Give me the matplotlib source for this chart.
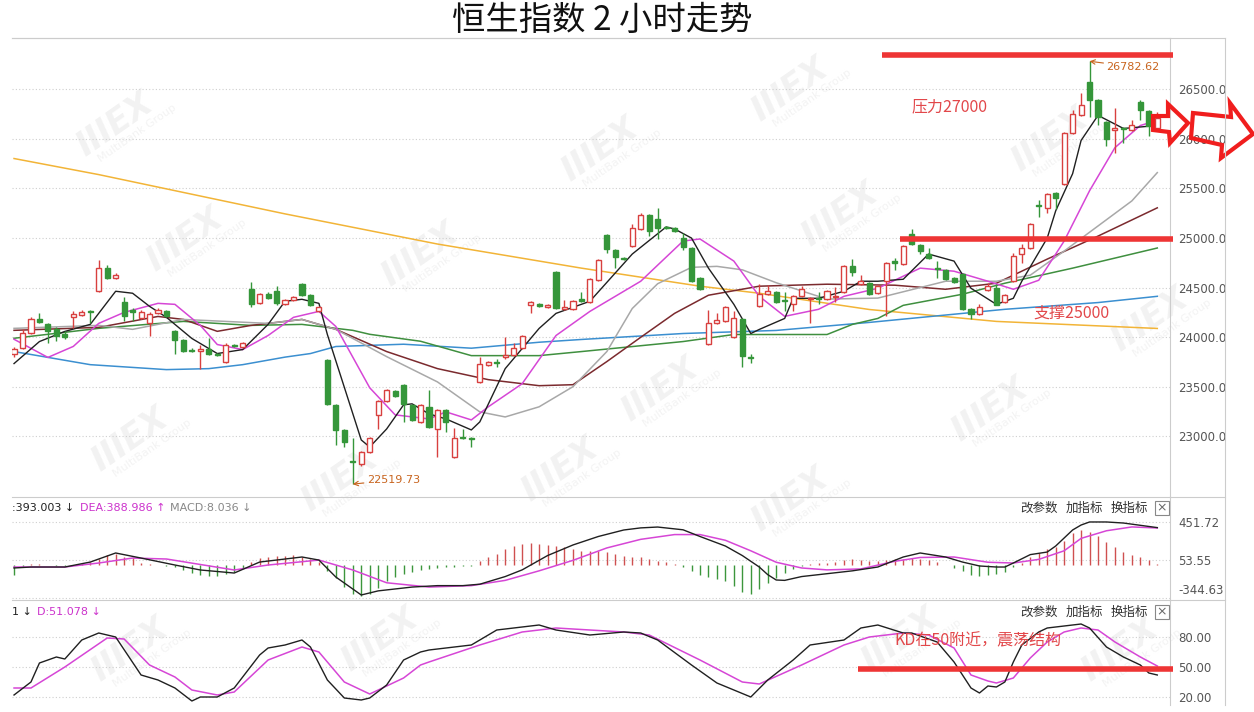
import numpy as np
import matplotlib.pyplot as plt
from matplotlib.patches import Polygon, Rectangle

plt.rcParams['font.family'] = ['Noto Sans CJK SC', 'DejaVu Sans']

# ---------------- data ----------------
# candles (2h bars)
opens = [23830, 23890, 24040, 24180, 24130, 24080, 24030, 24200, 24220, 24260,
         24470, 24700, 24600, 24360, 24270, 24190, 24140, 24240, 24260, 24060,
         23970, 23870, 23860, 23880, 23830, 23750, 23920, 23900, 24490, 24350,
         24440, 24470, 24340, 24380, 24540, 24430, 24260, 23770, 23320, 23070,
         22750, 22720, 22840, 23220, 23360, 23460, 23520, 23320, 23150, 23300,
         23080, 23270, 22790, 22990, 22980, 23550, 23720, 23750, 23800, 23820,
         23890, 24330, 24340, 24310, 24660, 24290, 24290, 24390, 24360, 24580,
         25030, 24880, 24800, 24920, 25090, 25230, 25190, 25110, 25100, 25000,
         24900, 24600, 23930, 24140, 24160, 24000, 24180, 23800, 24320, 24440,
         24460, 24380, 24340, 24420, 24390, 24400, 24390, 24410, 24460, 24720,
         24540, 24550, 24450, 24570, 24770, 24740, 25040, 24930, 24840, 24700,
         24680, 24600, 24640, 24290, 24230, 24480, 24500, 24360, 24570, 24840,
         24900, 25330, 25300, 25450, 25550, 26060, 26240, 26570, 26390, 26170,
         26090, 26110, 26090, 26370, 26280, 26110]
highs = [23900, 24080, 24200, 24240, 24140, 24100, 24060, 24260, 24270, 24270,
         24780, 24730, 24650, 24410, 24300, 24270, 24250, 24300, 24280, 24070,
         23980, 23890, 23920, 23990, 23840, 23940, 23930, 23950, 24560, 24450,
         24460, 24520, 24390, 24420, 24550, 24440, 24320, 23780, 23330, 23080,
         22980, 22850, 22990, 23370, 23480, 23470, 23530, 23330, 23330, 23470,
         23280, 23280, 23090, 23080, 22990, 23800, 23760, 23780, 24000, 23940,
         24020, 24370, 24350, 24340, 24670, 24380, 24380, 24460, 24600, 24790,
         25040, 24890, 24810, 25140, 25250, 25240, 25300, 25120, 25110, 25050,
         24910, 24610, 24280, 24240, 24320, 24260, 24190, 23830, 24540, 24530,
         24470, 24460, 24430, 24520, 24410, 24460, 24480, 24510, 24730, 24790,
         24630, 24560, 24530, 24760, 24800, 24930, 25090, 24940, 24900, 24770,
         24690, 24610, 24650, 24300, 24340, 24550, 24540, 24440, 24850, 24940,
         25150, 25380, 25450, 25460, 26070, 26290, 26460, 26782.62, 26400, 26180,
         26310, 26120, 26190, 26390, 26290, 26270]
lows = [23800, 23880, 24030, 24140, 23940, 23960, 23980, 24090, 24210, 24140,
        24460, 24590, 24590, 24160, 24160, 24180, 24010, 24230, 24200, 23830,
        23850, 23850, 23680, 23820, 23810, 23740, 23900, 23890, 24310, 24340,
        24390, 24330, 24330, 24370, 24420, 24320, 24250, 23320, 22910, 22890,
        22519.73, 22700, 22830, 23080, 23350, 23400, 23150, 23160, 23140, 23090,
        22790, 23050, 22780, 22970, 22890, 23540, 23710, 23700, 23780, 23810,
        23880, 24240, 24310, 24300, 24290, 24280, 24280, 24360, 24350, 24570,
        24850, 24700, 24780, 24910, 25080, 25020, 24990, 25090, 25060, 24880,
        24560, 24480, 23920, 24130, 24150, 23990, 23700, 23740, 24310, 24430,
        24350, 24260, 24260, 24410, 24140, 24340, 24380, 24360, 24450, 24620,
        24530, 24430, 24440, 24210, 24680, 24730, 24930, 24840, 24790, 24600,
        24580, 24550, 24280, 24180, 24220, 24470, 24330, 24350, 24560, 24750,
        24890, 25210, 25250, 25290, 25540, 26050, 26230, 26220, 26140, 25930,
        25860, 25960, 26080, 26190, 26030, 26100]
closes = [23880, 24040, 24180, 24150, 24060, 24010, 24000, 24230, 24250, 24250,
          24700, 24600, 24630, 24210, 24250, 24250, 24230, 24280, 24210, 23970,
          23860, 23860, 23880, 23830, 23820, 23920, 23910, 23940, 24340, 24440,
          24400, 24350, 24380, 24410, 24430, 24330, 24310, 23330, 23070, 22940,
          22740, 22840, 22980, 23360, 23470, 23410, 23330, 23170, 23320, 23100,
          23270, 23150, 22980, 22980, 22970, 23730, 23750, 23740, 23820, 23890,
          24010, 24360, 24320, 24330, 24300, 24310, 24370, 24370, 24590, 24780,
          24890, 24810, 24790, 25100, 25230, 25070, 25100, 25100, 25070, 24910,
          24570, 24490, 24140, 24170, 24310, 24190, 23810, 23790, 24440, 24470,
          24360, 24370, 24420, 24490, 24400, 24390, 24470, 24420, 24720, 24660,
          24570, 24440, 24520, 24750, 24750, 24920, 24940, 24870, 24800, 24690,
          24590, 24560, 24290, 24230, 24310, 24520, 24330, 24430, 24820, 24900,
          25140, 25320, 25440, 25400, 26060, 26250, 26340, 26390, 26220, 26000,
          26110, 26100, 26140, 26290, 26130, 26210]

# moving averages: (bar index, value) samples
ma5_x = [0, 3, 6, 9, 12, 14, 16, 18, 21, 24, 27, 30, 32, 34, 36, 37, 41, 42, 44, 46, 47, 49, 51, 54, 55,
         58, 62, 64, 68, 73, 77, 78, 80, 82, 85, 87, 88, 91, 92, 95, 98, 100, 102, 105, 108, 111, 113,
         116, 118, 119, 122, 123, 125, 126, 128, 131, 135]
ma5_y = [23735, 23957, 24059, 24130, 24464, 24444, 24312, 24201, 23988, 23836, 23876, 24130, 24363, 24383,
         24342, 24028, 22965, 22894, 23076, 23319, 23329, 23228, 23177, 23066, 23147, 23684, 24089, 24241,
         24363, 24839, 25112, 25092, 25000, 24697, 24332, 24038, 24079, 24190, 24393, 24393, 24464, 24565,
         24565, 24585, 24839, 24768, 24494, 24332, 24393, 24565, 25000, 25274, 25649, 25984, 26237, 26105,
         26135]
ma10_x = [0, 4, 7, 10, 13, 17, 19, 22, 24, 27, 30, 33, 36, 38, 42, 45, 49, 51, 54, 56, 60, 64, 68, 74, 79,
          81, 85, 88, 91, 95, 98, 102, 107, 111, 115, 118, 121, 124, 127, 130, 133, 135]
ma10_y = [23980, 23797, 23908, 24140, 24251, 24342, 24332, 24120, 23927, 23876, 24018, 24201, 24261, 24109,
          23491, 23218, 23177, 23248, 23167, 23299, 23532, 24018, 24261, 24565, 24970, 24991, 24768, 24413,
          24211, 24282, 24413, 24494, 24697, 24666, 24565, 24484, 24575, 24970, 25477, 25912, 26135, 26186]
ma20_x = [0, 10, 14, 20, 30, 34, 38, 44, 50, 55, 58, 62, 66, 70, 73, 76, 80, 83, 86, 90, 96, 102, 106,
          110, 116, 120, 124, 128, 132, 135]
ma20_y = [24090, 24120, 24080, 24180, 24140, 24180, 24080, 23805, 23550, 23248, 23197, 23299, 23502, 23856,
          24290, 24540, 24705, 24715, 24680, 24550, 24385, 24395, 24480, 24565, 24565, 24626, 24869, 25122,
          25375, 25660]
ma30_x = [0, 10, 17, 20, 24, 28, 34, 38, 44, 50, 56, 62, 66, 70, 74, 78, 82, 88, 96, 104, 110, 116, 122,
          128, 135]
ma30_y = [24070, 24100, 24210, 24180, 24060, 24120, 24180, 24080, 23856, 23684, 23573, 23512, 23522, 23755,
          24000, 24241, 24424, 24515, 24535, 24525, 24484, 24545, 24788, 25020, 25305]
ma60_x = [0, 10, 20, 28, 34, 40, 42, 48, 54, 62, 67, 79, 85, 96, 99, 102, 105, 112, 117, 125, 135]
ma60_y = [23990, 24090, 24160, 24120, 24130, 24070, 24030, 23960, 23815, 23815, 23856, 23957, 24028, 24028,
          24130, 24190, 24322, 24434, 24545, 24697, 24900]
ma120_x = [0, 9, 18, 23, 27, 32, 35, 38, 46, 54, 62, 67, 79, 90, 101, 117, 128, 135]
ma120_y = [23856, 23724, 23674, 23684, 23724, 23800, 23836, 23907, 23930, 23890, 23950, 23978, 24038, 24069,
           24150, 24282, 24350, 24413]
ma250_x = [0, 10, 20, 32, 50, 67, 81, 88, 101, 116, 135]
ma250_y = [25802, 25640, 25460, 25244, 24940, 24697, 24515, 24444, 24280, 24160, 24089]

# MACD histogram, one value per bar
macd_bar = [-100, -20, 10, 10, 5, -5, -5, 5, 10, 30, 60, 110, 120, 90, 70, 20, 10, 5, -5, -20,
            -50, -80, -100, -110, -110, -90, -70, -30, 30, 70, 90, 100, 100, 110, 90, 60, 30, -60, -130, -230,
            -300, -320, -300, -240, -170, -120, -90, -70, -50, -40, -30, -20, -20, -10, -5, 40, 80, 120, 170, 200,
            220, 230, 220, 210, 200, 190, 170, 150, 150, 150, 140, 120, 100, 90, 80, 60, 40, 30, 10, -20,
            -60, -100, -120, -150, -170, -220, -280, -300, -250, -190, -130, -80, -40, -10, 10, 20, 20, 30, 50, 60,
            50, 40, 40, 50, 60, 60, 70, 60, 50, 30, 5, -30, -60, -100, -110, -100, -90, -70, -20, 20,
            80, 130, 170, 190, 250, 340, 370, 350, 300, 240, 190, 140, 110, 80, 50, 8]
dif_x = [0, 2, 6, 9, 12, 15, 19, 22, 26, 29, 34, 36, 38, 41, 43, 47, 50, 53, 55, 58, 60, 63, 66, 69, 72, 74,
         76, 79, 81, 84, 86, 88, 89, 90, 91, 93, 96, 99, 102, 105, 107, 110, 112, 114, 116, 117, 118, 120,
         122, 123, 125, 126, 127, 129, 131, 135]
dif_y = [-30, -20, -20, 32, 127, 74, 1, -51, -83, 32, 85, 53, -125, -313, -270, -230, -215, -215, -200, -120,
         -50, 100, 211, 300, 368, 390, 399, 370, 300, 200, 100, -20, -100, -156, -160, -120, -90, -60, -20, 85,
         127, 85, 32, -9, -20, -20, 22, 110, 137, 200, 368, 420, 452, 452, 441, 393]
dea_x = [0, 6, 10, 14, 18, 26, 30, 36, 40, 44, 49, 54, 58, 62, 66, 70, 74, 78, 81, 84, 87, 90, 93, 96, 100,
         104, 107, 111, 115, 118, 121, 124, 126, 129, 132, 135]
dea_y = [-20, -20, 22, 74, 64, -51, 1, 53, -51, -185, -230, -215, -160, -60, 50, 180, 270, 320, 320, 260,
         150, 30, -30, -50, -40, 40, 80, 85, 30, 22, 60, 150, 280, 360, 400, 389]

# KD
k_x = [0, 2, 3, 5, 6, 8, 10, 12, 15, 17, 19, 21, 22, 24, 26, 29, 30, 32, 34, 35, 37, 39, 41, 42, 44, 46, 48,
       49, 54, 57, 62, 64, 68, 72, 74, 76, 80, 83, 87, 89, 92, 94, 98, 100, 102, 105, 106, 109, 111, 112,
       113, 114, 115, 116, 117, 118, 119, 121, 122, 124, 126, 127, 129, 131, 133, 134, 135]
k_y = [22, 35, 54, 60, 58, 77, 84, 80, 42, 37, 29, 16, 20, 20, 29, 62, 69, 72, 77, 70, 37, 19, 17, 19, 32, 57,
       65, 67, 72, 87, 92, 87, 82, 85, 84, 77, 52, 34, 20, 37, 57, 72, 77, 89, 92, 84, 84, 75, 55, 42, 29, 24,
       31, 30, 35, 55, 72, 85, 89, 91, 93, 89, 70, 60, 52, 44, 42]
d_x = [0, 2, 6, 11, 13, 16, 19, 21, 24, 26, 30, 34, 36, 39, 42, 46, 48, 49, 55, 60, 64, 72, 75, 81, 86, 88,
       93, 98, 101, 105, 108, 111, 113, 115, 116, 118, 120, 122, 124, 126, 128, 130, 133, 135]
d_y = [29, 29, 50, 79, 78, 52, 40, 27, 22, 25, 57, 70, 65, 35, 23, 39, 52, 55, 72, 85, 89, 85, 82, 57, 35, 33,
       52, 72, 80, 84, 82, 69, 42, 36, 34, 39, 59, 75, 85, 89, 87, 75, 60, 51]

price_ticks = [23000, 23500, 24000, 24500, 25000, 25500, 26000, 26500]
macd_ticks = [-344.63, 53.55, 451.72]
kd_ticks = [20, 50, 80]

# ---------------- layout ----------------
W, H = 1254, 712
RED = '#d8403f'
GREEN = '#35963a'
LINE_RED = '#ee3535'


def box(x0, y0, x1, y1):
    return [x0 / W, 1 - y1 / H, (x1 - x0) / W, (y1 - y0) / H]


fig = plt.figure(figsize=(12.54, 7.12), dpi=100)
fig.patch.set_facecolor('white')

# background layer for the watermark
bg = fig.add_axes([0, 0, 1, 1], zorder=0)
bg.set_xlim(0, W)
bg.set_ylim(H, 0)
bg.axis('off')
marks = [(115, 125), (185, 240), (420, 255), (600, 150), (790, 90), (840, 215), (1050, 140),
         (130, 440), (340, 480), (560, 470), (790, 500), (990, 410), (1150, 320), (660, 390),
         (900, 640), (1120, 650), (130, 650), (380, 640)]
for mx, my in marks:
    bg.text(mx, my, 'IIIEX', fontsize=24, fontweight='bold', fontstyle='italic', color='#f2f2f2',
            rotation=35, ha='center', va='center', family='DejaVu Sans')
    bg.text(mx + 22, my + 8, 'MultiBank Group', fontsize=8, color='#f3f3f3',
            rotation=35, ha='center', va='center', family='DejaVu Sans')

ax = fig.add_axes(box(12, 38, 1170, 496), zorder=1)
ax_macd = fig.add_axes(box(12, 497, 1170, 600), zorder=1)
ax_kd = fig.add_axes(box(12, 600, 1170, 705), zorder=1)

n = len(opens)
idx = np.arange(n)
o = np.array(opens, float)
h = np.array(highs, float)
l = np.array(lows, float)
c = np.array(closes, float)
up = c >= o

for a in (ax, ax_macd, ax_kd):
    a.set_facecolor('none')
    a.set_xlim(-0.24, 136.5)
    a.set_xticks([])
    for s in ('left', 'bottom'):
        a.spines[s].set_visible(False)
    a.spines['top'].set_color('#cccccc')
    a.spines['right'].set_color('#cccccc')
    a.yaxis.tick_right()
    a.tick_params(axis='y', length=0, pad=6, labelsize=8.5, labelcolor='#555555')
    a.grid(axis='y', color='#cfcfcf', linestyle=(0, (1, 2)), lw=0.8)
    a.set_axisbelow(True)

# ---- price panel ----
ax.set_ylim(22400, 27017)
ax.set_yticks(price_ticks)
ax.set_yticklabels([f'{v:.1f}' for v in price_ticks], family='DejaVu Sans')

ax.plot(ma250_x, ma250_y, color='#f2b437', lw=1.1, zorder=2)
ax.plot(ma120_x, ma120_y, color='#3b8fd0', lw=1.1, zorder=2)
ax.plot(ma60_x, ma60_y, color='#3f8f3f', lw=1.1, zorder=2)
ax.plot(ma30_x, ma30_y, color='#7b2a2e', lw=1.1, zorder=2)
ax.plot(ma20_x, ma20_y, color='#a8a8a8', lw=1.1, zorder=2)
ax.plot(ma10_x, ma10_y, color='#d646d6', lw=1.1, zorder=2)
ax.plot(ma5_x, ma5_y, color='#202020', lw=1.0, zorder=2)

ax.vlines(idx[up], l[up], h[up], color=RED, lw=1, zorder=3)
ax.vlines(idx[~up], l[~up], h[~up], color=GREEN, lw=1, zorder=3)
ax.bar(idx[up], np.maximum(c[up] - o[up], 8), bottom=o[up], width=0.6,
       facecolor='white', edgecolor=RED, lw=1, zorder=4)
ax.bar(idx[~up], np.maximum(o[~up] - c[~up], 8), bottom=c[~up], width=0.6,
       facecolor=GREEN, edgecolor=GREEN, lw=1, zorder=4)

hi = int(np.argmax(h))
lo = int(np.argmin(l))
ax.annotate(f'{h[hi]:.2f}', xy=(hi, h[hi]), xytext=(12, -4), textcoords='offset points',
            color='#c8641e', fontsize=8, family='DejaVu Sans', va='center',
            arrowprops=dict(arrowstyle='->', color='#c8641e', lw=0.8, shrinkA=0, shrinkB=0))
ax.annotate(f'{l[lo]:.2f}', xy=(lo, l[lo]), xytext=(10, 3), textcoords='offset points',
            color='#c8641e', fontsize=8, family='DejaVu Sans', va='center',
            arrowprops=dict(arrowstyle='->', color='#c8641e', lw=0.8, shrinkA=0, shrinkB=0))

# resistance / support lines
ax.hlines(26845, 102.5, 136.9, color=LINE_RED, lw=4, clip_on=False, zorder=6)
ax.hlines(24990, 104.6, 136.9, color=LINE_RED, lw=4, clip_on=False, zorder=6)
ax.text(106, 26320, '压力27000', color='#e2474a', fontsize=11.5, va='center', zorder=6)
ax.text(120.4, 24240, '支撑25000', color='#e2474a', fontsize=11.5, va='center', zorder=6)

# ---- MACD panel ----
ax_macd.set_ylim(-365.6, 713.7)
ax_macd.set_yticks(macd_ticks)
ax_macd.set_yticklabels(['', f'{macd_ticks[1]:.2f}', f'{macd_ticks[2]:.2f}'], family='DejaVu Sans')
mb = np.array(macd_bar, float)
ax_macd.vlines(idx[mb >= 0], 0, mb[mb >= 0], color='#cf5050', lw=1)
ax_macd.vlines(idx[mb < 0], 0, mb[mb < 0], color='#3c963c', lw=1)
ax_macd.plot(dea_x, dea_y, color='#d646d6', lw=1.1)
ax_macd.plot(dif_x, dif_y, color='#202020', lw=1.0)

# ---- KD panel ----
ax_kd.set_ylim(12, 117)
ax_kd.set_yticks(kd_ticks)
ax_kd.set_yticklabels([f'{v:.2f}' for v in kd_ticks], family='DejaVu Sans')
ax_kd.plot(d_x, d_y, color='#d646d6', lw=1.1)
ax_kd.plot(k_x, k_y, color='#202020', lw=1.0)
ax_kd.hlines(48, 99.6, 136.9, color=LINE_RED, lw=4, clip_on=False, zorder=6)
ax_kd.text(104, 76, 'KD在50附近，震荡结构', color='#e2474a', fontsize=11.5, va='center', zorder=6)

# ---------------- overlay: frame, headers, arrows ----------------
ov = fig.add_axes([0, 0, 1, 1], zorder=5)
ov.set_xlim(0, W)
ov.set_ylim(H, 0)
ov.axis('off')
ov.patch.set_alpha(0)

ov.plot([12, 1225], [38, 38], color='#cccccc', lw=0.8)
ov.plot([1225, 1225], [38, 705], color='#cccccc', lw=0.8)
ov.plot([1170, 1225], [497, 497], color='#cccccc', lw=0.8)
ov.plot([1170, 1225], [600, 600], color='#cccccc', lw=0.8)
ov.text(1178, 591, f'{macd_ticks[0]:.2f}', fontsize=8.5, color='#555555', va='center',
        family='DejaVu Sans')

fig.text(0.48, 1 - 20 / H, '恒生指数 2 小时走势', fontsize=24, ha='center', va='center', color='#111111')

hdr = dict(fontsize=8, va='center', family='DejaVu Sans')
ov.text(12, 508, ':393.003 ↓', color='#222222', **hdr)
ov.text(80, 508, 'DEA:388.986 ↑', color='#cc33cc', **hdr)
ov.text(170, 508, 'MACD:8.036 ↓', color='#888888', **hdr)
ov.text(12, 612, '1 ↓', color='#222222', **hdr)
ov.text(37, 612, 'D:51.078 ↓', color='#cc33cc', **hdr)

for yy in (508, 612):
    for xx, s in ((1020, '改参数'), (1066, '加指标'), (1111, '换指标')):
        ov.text(xx, yy, s, fontsize=9, color='#333333', va='center')
    ov.add_patch(Rectangle((1155, yy - 7), 14, 14, fill=False, edgecolor='#888888', lw=0.8))
    ov.text(1162, yy, '×', fontsize=9, color='#666666', ha='center', va='center', family='DejaVu Sans')

arrow1 = [(1153, 116), (1168, 116), (1168, 104), (1188, 123), (1170, 143), (1169, 132), (1153, 130)]
arrow2 = [(1193, 113), (1231, 117), (1230, 103), (1253, 134), (1221, 158), (1222, 145), (1191, 138)]
for pts in (arrow1, arrow2):
    ov.add_patch(Polygon(pts, closed=True, fill=False, edgecolor='#f01e1e', lw=3, joinstyle='miter'))

fig.savefig('out.png', dpi=100, facecolor='white')
